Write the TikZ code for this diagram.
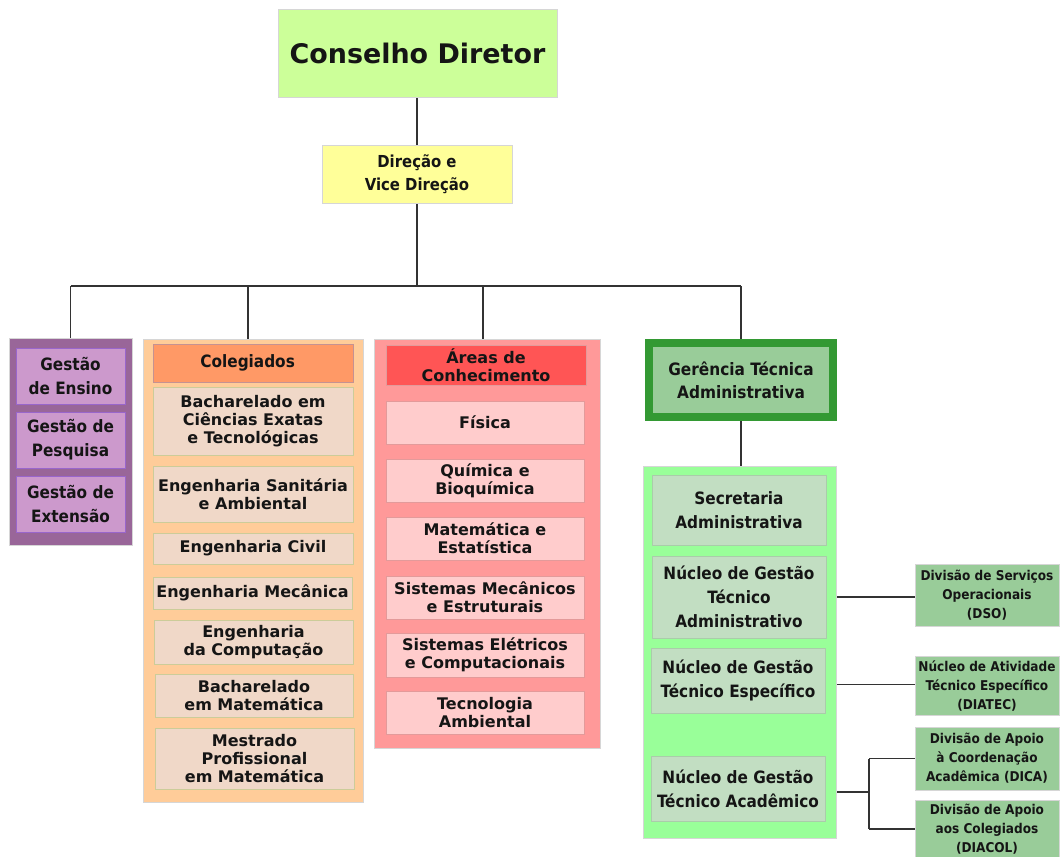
\documentclass[tikz,border=0pt]{standalone}
\usepackage{fontspec}
\setmainfont{DejaVu Sans}
\newfontfamily\condfont{DejaVu Sans Condensed}

\definecolor{txt}{HTML}{151515}
\definecolor{linkc}{HTML}{333333}
\definecolor{edge}{HTML}{D6D6D6}
\definecolor{consfill}{HTML}{CCFF99}
\definecolor{dirfill}{HTML}{FFFF99}
\definecolor{purout}{HTML}{996699}
\definecolor{purin}{HTML}{CC99CC}
\definecolor{puredge}{HTML}{9966CC}
\definecolor{oraout}{HTML}{FFCC99}
\definecolor{orahead}{HTML}{FF9966}
\definecolor{oraitem}{HTML}{F0D8C8}
\definecolor{oraedge}{HTML}{CCCC99}
\definecolor{redout}{HTML}{FF9999}
\definecolor{redhead}{HTML}{FF5555}
\definecolor{reditem}{HTML}{FFCCCC}
\definecolor{rededge}{HTML}{E39A9A}
\definecolor{gerborder}{HTML}{339933}
\definecolor{gerfill}{HTML}{99CC99}
\definecolor{grnout}{HTML}{99FF99}
\definecolor{grnitem}{HTML}{C2DEC2}
\definecolor{grnedge}{HTML}{AACCAA}
\definecolor{divfill}{HTML}{99CC99}

\pgfdeclarelayer{background}
\pgfsetlayers{background,main}

% box given by its corners in pixel units: style, name, x1, y1, x2, y2, text
\newcommand\bx[7]{\node[#1, minimum width={(#5-(#3))*0.75pt}, minimum height={(#6-(#4))*0.75pt}] (#2) at ({(#3+#5)/2},{(#4+#6)/2}) {#7};}

\tikzset{
  x=0.75pt, y=-0.75pt,
  box/.style={rectangle, inner sep=0pt, outer sep=0pt, align=center, text=txt, line width=0.75pt},
  wide/.style={font=\fontsize{12}{13.5}\selectfont\bfseries},
  cond/.style={font=\condfont\fontsize{12.75}{18}\selectfont\bfseries},
  small/.style={font=\condfont\fontsize{10.1}{14.25}\selectfont\bfseries},
  cons/.style={box, fill=consfill, draw=edge, font=\fontsize{20.2}{25}\selectfont\bfseries},
  dir/.style={box, fill=dirfill, draw=edge, font=\condfont\fontsize{12.4}{17.25}\selectfont\bfseries},
  purbox/.style={box, fill=purout, draw=edge},
  puritem/.style={box, fill=purin, draw=puredge, font=\condfont\fontsize{12.75}{18}\selectfont\bfseries},
  orabox/.style={box, fill=oraout, draw=edge},
  orahd/.style={box, fill=orahead, draw=rededge!70!gray, font=\condfont\fontsize{12.75}{18}\selectfont\bfseries},
  oraitm/.style={box, wide, fill=oraitem, draw=oraedge},
  redbox/.style={box, fill=redout, draw=edge},
  redhd/.style={box, wide, fill=redhead, draw=rededge},
  reditm/.style={box, wide, fill=reditem, draw=rededge},
  gerbox/.style={box, fill=gerfill, draw=gerborder, line width=6pt, font=\condfont\fontsize{12.8}{17.25}\selectfont\bfseries},
  grnbox/.style={box, fill=grnout, draw=edge},
  grnitm/.style={box, cond, fill=grnitem, draw=grnedge},
  divbox/.style={box, small, fill=divfill, draw=edge},
  link/.style={draw=linkc, line width=1.3pt},
}

\begin{document}
\begin{tikzpicture}
\clip (0,0) rectangle (1061,857);

% top of the hierarchy
\bx{cons}{cons}{278}{9}{557}{97}{Conselho Diretor}
\bx{dir}{dir}{322}{145}{512}{203}{Direção e\\Vice Direção}

% teaching, research and extension
\bx{purbox}{pur}{9}{338}{132}{545}{}
\bx{puritem}{ens}{16}{348}{125}{404}{Gestão\\de Ensino}
\bx{puritem}{pes}{16}{412}{125}{468}{Gestão de\\Pesquisa}
\bx{puritem}{ext}{16}{476}{125}{532}{Gestão de\\Extensão}

% colleges
\bx{orabox}{ora}{143}{339}{363}{802}{}
\bx{orahd}{col}{153}{344}{353}{382}{Colegiados\hspace*{8pt}}
\bx{oraitm}{c1}{153}{387}{353}{455}{Bacharelado em\\Ciências Exatas\\e Tecnológicas}
\bx{oraitm}{c2}{153}{466}{353}{522}{Engenharia Sanitária\\e Ambiental}
\bx{oraitm}{c3}{153}{533}{353}{564}{Engenharia Civil}
\bx{oraitm}{c4}{153}{577}{352}{609}{Engenharia Mecânica}
\bx{oraitm}{c5}{154}{620}{353}{664}{Engenharia\\da Computação}
\bx{oraitm}{c6}{155}{674}{353}{717}{Bacharelado\\em Matemática}
\bx{oraitm}{c7}{155}{728}{354}{789}{Mestrado\\Profissional\\em Matemática}

% knowledge areas
\bx{redbox}{red}{374}{339}{600}{748}{}
\bx{redhd}{are}{386}{345}{586}{385}{Áreas de\\Conhecimento}
\bx{reditm}{a1}{386}{401}{584}{444}{Física}
\bx{reditm}{a2}{386}{459}{584}{502}{Química e\\Bioquímica}
\bx{reditm}{a3}{386}{517}{584}{560}{Matemática e\\Estatística}
\bx{reditm}{a4}{386}{576}{584}{619}{Sistemas Mecânicos\\e Estruturais}
\bx{reditm}{a5}{386}{633}{584}{677}{Sistemas Elétricos\\e Computacionais}
\bx{reditm}{a6}{386}{691}{584}{734}{Tecnologia\\Ambiental}

% technical management
\bx{gerbox}{ger}{649}{343}{833}{417}{Gerência Técnica\\Administrativa}
\bx{grnbox}{grn}{643}{466}{836}{838}{}
\bx{grnitm}{sec}{652}{475}{826}{545}{Secretaria\\Administrativa}
\bx{grnitm}{nadm}{652}{556}{826}{638}{Núcleo de Gestão\\Técnico\\Administrativo}
\bx{grnitm}{nesp}{651}{648}{825}{713}{Núcleo de Gestão\\Técnico Específico}
\bx{grnitm}{nacad}{651}{756}{825}{821}{Núcleo de Gestão\\Técnico Acadêmico}

% divisions
\bx{divbox}{dso}{915}{564}{1059}{626}{Divisão de Serviços\\Operacionais\\(DSO)}
\bx{divbox}{diatec}{915}{656}{1059}{715}{Núcleo de Atividade\\Técnico Específico\\(DIATEC)}
\bx{divbox}{dica}{915}{727}{1059}{790}{Divisão de Apoio\\à Coordenação\\Acadêmica (DICA)}
\bx{divbox}{diacol}{915}{800}{1059}{858}{Divisão de Apoio\\aos Colegiados\\(DIACOL)}

% connectors, drawn beneath the boxes
\begin{pgfonlayer}{background}
  \coordinate (bus) at (418,286);
  \coordinate (dO) at (248,286);
  \coordinate (dR) at (483,286);
  \draw[link] (dir.north |- cons.south) -- (dir.north);
  \draw[link] (dir.south) -- (dir.south |- bus);
  \draw[link] (pur.north |- bus) -- (ger.north |- bus);
  \draw[link] (pur.north) -- (pur.north |- bus);
  \draw[link] (dO) -- (dO |- ora.north);
  \draw[link] (dR) -- (dR |- red.north);
  \draw[link] (ger.north |- bus) -- (ger.north);
  \draw[link] (ger.south) -- (ger.south |- grn.north);
  \draw[link] (nadm.east) -- (nadm.east -| dso.west);
  \draw[link] ([yshift=-3pt]nesp.east) -- ([yshift=-3pt]nesp.east -| diatec.west);
  \draw[link] ([yshift=-2.5pt]nacad.east) -- ++(44,0) coordinate (fork);
  \draw[link] (fork |- dica.west) -- (fork |- diacol.west);
  \draw[link] (fork |- dica.west) -- (dica.west);
  \draw[link] (fork |- diacol.west) -- (diacol.west);
\end{pgfonlayer}
\end{tikzpicture}
\end{document}
